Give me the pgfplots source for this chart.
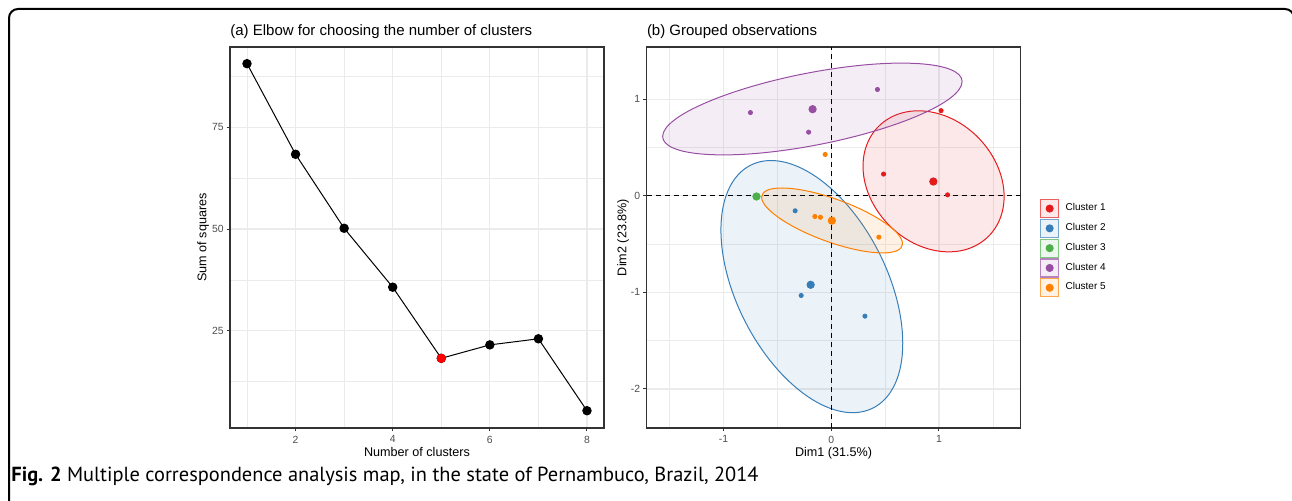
\documentclass[border=0pt]{standalone}
\usepackage{fontspec}
\setmainfont{Liberation Sans}
\newfontfamily\capfont{PT Sans}
\usepackage{pgfplots}
\pgfplotsset{compat=1.18}
\definecolor{cA}{HTML}{E41A1C}
\definecolor{cB}{HTML}{377EB8}
\definecolor{cC}{HTML}{4DAF4A}
\definecolor{cD}{HTML}{984EA3}
\definecolor{cE}{HTML}{FF7F00}
\definecolor{gridc}{HTML}{EBEBEB}
\definecolor{borderc}{HTML}{333333}
\definecolor{tickc}{HTML}{4D4D4D}
\pgfplotsset{
 ggbw/.style={
  scale only axis, width=187pt, height=190.5pt,
  axis line style={borderc, line width=0.6pt},
  grid=both,
  major grid style={gridc, line width=0.6pt},
  minor grid style={gridc, line width=0.3pt},
  tick align=outside, tick pos=left,
  major tick length=1.7pt, minor tick length=0pt,
  tick style={borderc, line width=0.5pt},
  ticklabel style={font=\fontsize{5.2}{6}\selectfont, text=tickc},
  xticklabel style={inner sep=0pt, anchor=north, yshift=-2pt},
  yticklabel style={inner sep=0pt, anchor=east, xshift=-1.3pt},
  label style={font=\fontsize{6.3}{7.5}\selectfont, inner sep=0pt},
  title style={font=\fontsize{7.5}{9}\selectfont, at={(axis description cs:0,1)}, anchor=base west, inner sep=0pt, yshift=-0.5pt},
  /pgf/number format/assume math mode=true,
 },
 clusterkey/.style={legend image code/.code={
   \path[draw=none, fill=none] (0pt,0pt) -- (10.5pt,0pt);
   \draw[draw=#1!70, fill=#1!10, line width=0.6pt] (0pt,-4.5pt) rectangle (9pt,4.5pt);
   \fill[#1] (4.5pt,0pt) circle (1.8pt);}},
 ell/.style={draw=#1, fill=#1, fill opacity=0.1, line width=0.5pt, smooth cycle, tension=0.62, forget plot},
 sm/.style={only marks, mark=*, mark size=1.05pt, color=#1, forget plot},
 bg/.style={only marks, mark=*, mark size=1.85pt, color=#1, forget plot},
}
\begin{document}
\begin{tikzpicture}
\path[use as bounding box] (0pt,0pt) rectangle (646pt,-250.5pt);
\draw[line width=1pt, rounded corners=4.5pt] (4.5pt,-260pt) -- (4.5pt,-4.5pt) -- (647pt,-4.5pt) -- (647pt,-260pt);
\node[anchor=base west, inner sep=0pt, font=\capfont\fontsize{10.2}{12}\selectfont] at (5.5pt,-241pt) {\textbf{Fig. 2} Multiple correspondence analysis map, in the state of Pernambuco, Brazil, 2014};

\begin{axis}[ggbw, at={(115pt,-214pt)}, anchor=south west,
  xmin=0.65, xmax=8.35, ymin=1.05, ymax=94.8,
  xtick={2,4,6,8}, ytick={25,50,75},
  minor xtick={1,3,5,7}, minor ytick={12.5,37.5,62.5,87.5},
  title={(a) Elbow for choosing the number of clusters},
  xlabel={Number of clusters}, ylabel={Sum of squares},
  xlabel style={at={(axis description cs:0.5,-0.0735)}, anchor=base},
  ylabel style={at={(axis description cs:-0.072,0.5)}, anchor=center},
]
\addplot[black, line width=0.5pt, mark=*, mark size=2.1pt] coordinates {
 (1,90.7) (2,68.4) (3,50.2) (4,35.7) (5,18.2) (6,21.5) (7,23.0) (8,5.3)};
\addplot[only marks, mark=*, mark size=2.1pt, color=red] coordinates {(5,18.2)};
\end{axis}

\begin{axis}[ggbw, at={(323.3pt,-214pt)}, anchor=south west,
  xmin=-1.714, xmax=1.758, ymin=-2.404, ymax=1.541,
  xtick={-1,0,1}, xticklabels={-1,0,1},
  ytick={-2,-1,0,1}, yticklabels={-2,-1,0,1},
  minor xtick={-1.5,-0.5,0.5,1.5}, minor ytick={-1.5,-0.5,0.5},
  title={(b) Grouped observations},
  xlabel={Dim1 (31.5\%)}, ylabel={Dim2 (23.8\%)},
  xlabel style={at={(axis description cs:0.5,-0.0735)}, anchor=base},
  ylabel style={at={(axis description cs:-0.063,0.5)}, anchor=center},
  legend style={at={(1.051,0.472)}, anchor=west, draw=none, fill=none, inner sep=0pt,
    font=\fontsize{5}{6}\selectfont, row sep=0.3pt, cells={anchor=west}},
  legend cell align=left,
]
% ellipses
\addplot[ell=cA] coordinates {(1.605,-0.007) (1.555,0.278) (1.413,0.543) (1.201,0.749) (0.950,0.863) (0.699,0.869) (0.487,0.765) (0.345,0.568) (0.295,0.307) (0.345,0.022) (0.487,-0.243) (0.699,-0.449) (0.950,-0.563) (1.201,-0.569) (1.413,-0.465) (1.555,-0.268)};
\addplot[ell=cB] coordinates {(0.664,-1.527) (0.600,-1.036) (0.417,-0.531) (0.143,-0.088) (-0.180,0.226) (-0.503,0.362) (-0.777,0.299) (-0.960,0.048) (-1.024,-0.353) (-0.960,-0.844) (-0.777,-1.349) (-0.503,-1.792) (-0.180,-2.106) (0.143,-2.242) (0.417,-2.179) (0.600,-1.928)};
\addplot[ell=cD] coordinates {(1.215,1.183) (1.109,1.307) (0.808,1.369) (0.357,1.360) (-0.175,1.280) (-0.707,1.142) (-1.158,0.967) (-1.459,0.783) (-1.565,0.615) (-1.459,0.491) (-1.158,0.429) (-0.707,0.438) (-0.175,0.518) (0.357,0.656) (0.808,0.831) (1.109,1.015)};
\addplot[ell=cE] coordinates {(0.662,-0.495) (0.612,-0.387) (0.470,-0.259) (0.258,-0.130) (0.008,-0.020) (-0.242,0.054) (-0.454,0.081) (-0.596,0.057) (-0.646,-0.015) (-0.596,-0.123) (-0.454,-0.251) (-0.242,-0.380) (0.008,-0.490) (0.258,-0.564) (0.470,-0.591) (0.612,-0.567)};
% observations
\addplot[sm=cA] coordinates {(0.486,0.225) (1.020,0.882) (1.080,0.010)};
\addplot[sm=cB] coordinates {(-0.335,-0.155) (-0.279,-1.032) (0.313,-1.246)};
\addplot[sm=cC] coordinates {(-0.694,-0.007)};
\addplot[sm=cD] coordinates {(-0.750,0.862) (-0.210,0.659) (0.429,1.101)};
\addplot[sm=cE] coordinates {(-0.056,0.428) (-0.152,-0.214) (-0.100,-0.222) (0.442,-0.428)};
% cluster centres
\addplot[bg=cA] coordinates {(0.948,0.148)};
\addplot[bg=cB] coordinates {(-0.191,-0.921)};
\addplot[bg=cC] coordinates {(-0.694,-0.007)};
\addplot[bg=cD] coordinates {(-0.173,0.897)};
\addplot[bg=cE] coordinates {(0.006,-0.257)};
% reference lines
\addplot[black, line width=0.5pt, dash pattern=on 2.5pt off 2pt, forget plot] coordinates {(-1.714,0) (1.758,0)};
\addplot[black, line width=0.5pt, dash pattern=on 2.5pt off 2pt, forget plot] coordinates {(0,-2.404) (0,1.541)};
\addlegendimage{clusterkey=cA}\addlegendentry{Cluster 1}
\addlegendimage{clusterkey=cB}\addlegendentry{Cluster 2}
\addlegendimage{clusterkey=cC}\addlegendentry{Cluster 3}
\addlegendimage{clusterkey=cD}\addlegendentry{Cluster 4}
\addlegendimage{clusterkey=cE}\addlegendentry{Cluster 5}
\end{axis}
\end{tikzpicture}
\end{document}
